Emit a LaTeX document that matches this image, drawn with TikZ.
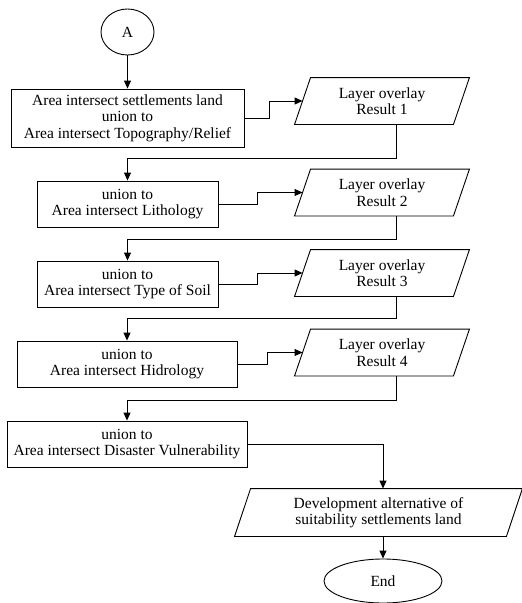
\documentclass[tikz,border=0pt]{standalone}
\usepackage{fontspec}
\setmainfont{Liberation Serif}
\usetikzlibrary{shapes.geometric,arrows.meta,calc}
\begin{document}
\begin{tikzpicture}[x=1pt,y=-1pt, line width=0.9pt,
  font=\fontsize{15.5}{16.5}\selectfont,
  procbox/.style={draw, rectangle, align=center, inner sep=0pt},
  iotext/.style={rectangle, align=center, inner sep=0pt, minimum height=46pt},
  term/.style={draw, ellipse, inner sep=0pt},
  arr/.style={-{Triangle[length=8pt,width=7pt]}}]
\useasboundingbox (0,0) rectangle (522,603);
\node[term, minimum width=53pt, minimum height=46pt] (A) at (127.5,32) {A};
\node[procbox, minimum width=233pt, minimum height=58pt] (b1) at (127.5,118)
  {Area intersect settlements land\\union to\\Area intersect Topography/Relief};
\node[iotext, minimum width=174pt] (p1) at (382,101) {Layer overlay\\Result 1};
\node[procbox, minimum width=181pt, minimum height=46pt] (b2) at (127.5,204)
  {union to\\Area intersect Lithology};
\node[iotext, minimum width=174pt] (p2) at (382,192.5) {Layer overlay\\Result 2};
\node[procbox, minimum width=181pt, minimum height=46pt] (b3) at (127.5,284)
  {union to\\Area intersect Type of Soil};
\node[iotext, minimum width=174pt] (p3) at (382,273) {Layer overlay\\Result 3};
\node[procbox, minimum width=220pt, minimum height=46pt] (b4) at (127,364)
  {union to\\Area intersect Hidrology};
\node[iotext, minimum width=174pt] (p4) at (382,352.5) {Layer overlay\\Result 4};
\node[procbox, minimum width=240pt, minimum height=46pt] (b5) at (127,444)
  {union to\\Area intersect Disaster Vulnerability};
\node[iotext, minimum width=287pt, minimum height=47pt] (p5) at (378.5,512.5)
  {Development alternative of\\suitability settlements land};
\node[term, minimum width=118pt, minimum height=44pt] (End) at (383,581) {End};

\foreach \n in {p1,p2,p3,p4,p5}
  \draw (\n.south west) -- ($(\n.north west)+(16,0)$) -- (\n.north east)
        -- ($(\n.south east)+(-16,0)$) -- cycle;

\draw[arr] (A) -- (b1);
\draw[arr] (b1.east) -- ++(25,0) |- ($(p1.west)+(8,0)$);
\draw[arr] ($(p1.south)+(14,0)$) -- ++(0,34) -| (b2.north);
\draw[arr] (b2.east) -- ++(39,0) |- ($(p2.west)+(8,0)$);
\draw[arr] ($(p2.south)+(14,0)$) -- ++(0,23) -| (b3.north);
\draw[arr] (b3.east) -- ++(39,0) |- ($(p3.west)+(8,0)$);
\draw[arr] ($(p3.south)+(14,0)$) -- ++(0,22) -| (b4.north);
\draw[arr] (b4.east) -- ++(30,0) |- ($(p4.west)+(8,0)$);
\draw[arr] ($(p4.south)+(14,0)$) -- ++(0,24) -| (b5.north);
\draw[arr] (b5.east) -| (p5.north -| End.north);
\draw[arr] (p5.south -| End.north) -- (End.north);
\end{tikzpicture}
\end{document}
